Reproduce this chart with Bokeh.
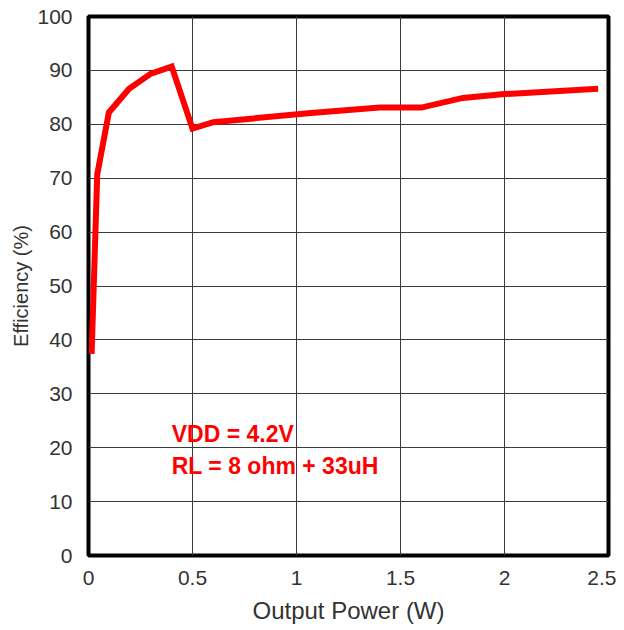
from bokeh.plotting import figure
from bokeh.models import Range1d, Label, FixedTicker
from bokeh.embed import file_html
from bokeh.resources import INLINE

# Data
power_w = [0.015, 0.042, 0.098, 0.195, 0.30, 0.40, 0.50, 0.60, 1.07, 1.40, 1.60, 1.80, 2.00, 2.45]
efficiency = [37.4, 70.7, 82.2, 86.6, 89.4, 90.7, 79.2, 80.4, 82.1, 83.1, 83.1, 84.9, 85.6, 86.6]
x_ticks = [0, 0.5, 1, 1.5, 2, 2.5]
y_ticks = [0, 10, 20, 30, 40, 50, 60, 70, 80, 90, 100]
notes = ["VDD = 4.2V", "RL = 8 ohm + 33uH"]

FONT = "Liberation Sans"

p = figure(width=616, height=626, output_backend="svg", toolbar_location=None,
           x_range=Range1d(0, 2.5), y_range=Range1d(0, 100),
           min_border_left=88, min_border_right=8, min_border_top=16, min_border_bottom=71)

p.outline_line_color = "black"
p.outline_line_width = 4
p.outline_line_alpha = 1.0

for g in (p.xgrid[0], p.ygrid[0]):
    g.grid_line_color = "#3a3a3a"
    g.grid_line_width = 1

p.xaxis.ticker = FixedTicker(ticks=x_ticks)
p.yaxis.ticker = FixedTicker(ticks=y_ticks)
p.xaxis.major_label_overrides = {0: "0", 0.5: "0.5", 1: "1", 1.5: "1.5", 2: "2", 2.5: "2.5"}

for ax in (p.xaxis[0], p.yaxis[0]):
    ax.axis_line_color = None
    ax.major_tick_line_color = None
    ax.minor_tick_line_color = None
    ax.major_label_text_font = FONT
    ax.major_label_text_font_size = "21px"
    ax.major_label_text_color = "#333333"
    ax.axis_label_text_font = FONT
    ax.axis_label_text_font_style = "normal"
    ax.axis_label_text_color = "#333333"

p.xaxis.axis_label = "Output Power (W)"
p.yaxis.axis_label = "Efficiency (%)"
p.xaxis.axis_label_text_font_size = "24px"
p.yaxis.axis_label_text_font_size = "20px"
p.xaxis.major_label_standoff = 9
p.yaxis.major_label_standoff = 10
p.xaxis.axis_label_standoff = 9
p.yaxis.axis_label_standoff = 2

p.line(power_w, efficiency, line_color="#ff0000", line_width=6, line_join="miter")

p.add_layout(Label(x=0.40, y=22.6, text=notes[0], text_font=FONT, text_font_size="23px",
                   text_font_style="bold", text_color="#ff0000", text_baseline="middle"))
p.add_layout(Label(x=0.40, y=16.6, text=notes[1], text_font=FONT, text_font_size="23px",
                   text_font_style="bold", text_color="#ff0000", text_baseline="middle"))

open("out.html", "w").write(file_html(p, INLINE))
